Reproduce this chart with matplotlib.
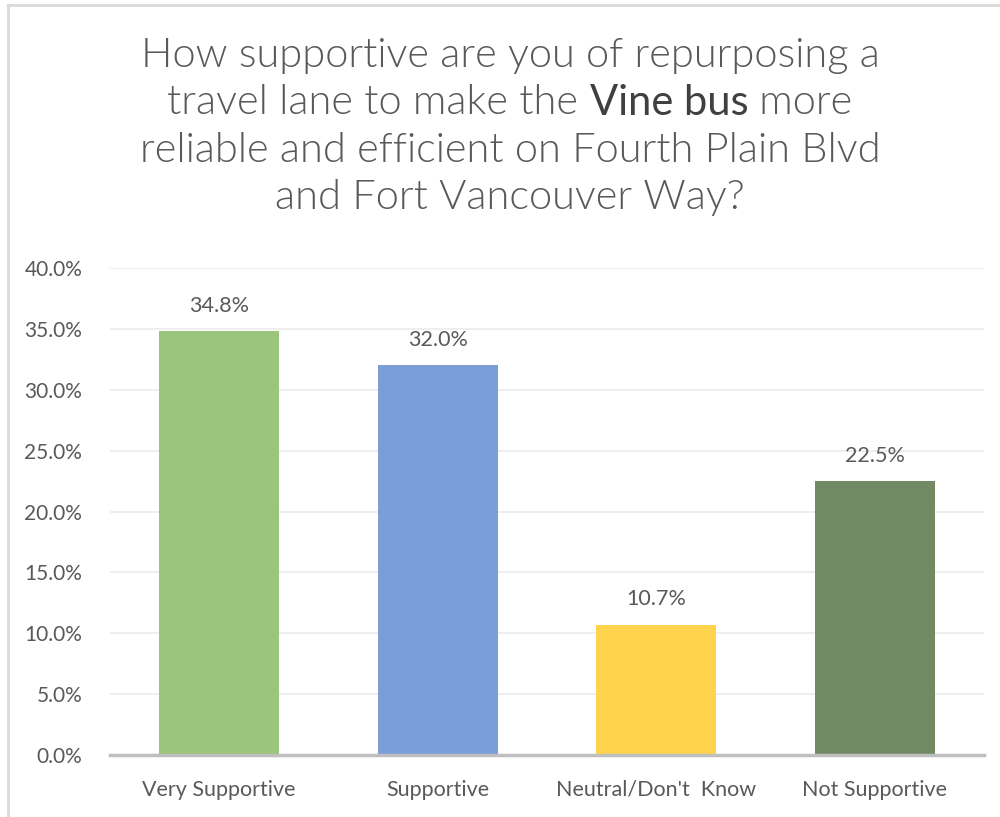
import matplotlib
matplotlib.use("Agg")
import matplotlib.pyplot as plt
from matplotlib.lines import Line2D

categories = ["Very Supportive", "Supportive", "Neutral/Don't  Know", "Not Supportive"]
values = [34.8, 32.0, 10.7, 22.5]
colors = ["#9BC47C", "#7B9ED8", "#FFD34D", "#718A63"]
yticks = [0, 5, 10, 15, 20, 25, 30, 35, 40]

plt.rcParams['font.family'] = ['Lato', 'DejaVu Sans']
txt = "#595959"

fig = plt.figure(figsize=(10, 8.17), dpi=100)
ax = fig.add_axes([0.11, 0.0759, 0.874, 0.596])

x = range(len(categories))
ax.bar(x, values, width=0.55, color=colors, zorder=3)
for i, v in zip(x, values):
    ax.annotate(f"{v:.1f}%", (i, v), xytext=(0, 11), textcoords="offset points",
                ha="center", va="bottom", fontsize=15.5, color=txt)

ax.set_xlim(-0.5, len(categories) - 0.5)
ax.set_ylim(0, 40)
ax.set_yticks(yticks)
ax.set_yticklabels([f"{t:.1f}%" for t in yticks], fontsize=15, color=txt)
ax.set_xticks(list(x))
ax.set_xticklabels(categories, fontsize=15.5, color=txt)
ax.tick_params(length=0, pad=20)
ax.tick_params(axis="x", pad=18)
ax.grid(axis="y", color="#EBEBEB", lw=1.2, zorder=0)
for s in ["top", "right", "left"]:
    ax.spines[s].set_visible(False)
ax.spines["bottom"].set_color("#BFBFBF")
ax.spines["bottom"].set_linewidth(2.5)
ax.spines["bottom"].set_zorder(4)

# title, with "Vine bus" in bolder type
fs = 30
lines = ["How supportive are you of repurposing a",
         None,
         "reliable and efficient on Fourth Plain Blvd",
         "and Fort Vancouver Way?"]
ys = [1 - 55 / 817, 1 - 103 / 817, 1 - 150 / 817, 1 - 197 / 817]
cx = 0.51
for line, y in zip(lines, ys):
    if line is not None:
        fig.text(cx, y, line, ha="center", va="center", fontsize=fs, color=txt,
                 fontweight=300)
fig.canvas.draw()
r = fig.canvas.get_renderer()
parts = [("travel lane to make the ", 300, txt),
         ("Vine bus", "normal", "#404040"),
         (" more", 300, txt)]
objs = [fig.text(0, ys[1], p, ha="left", va="center", fontsize=fs, color=c, fontweight=w)
        for p, w, c in parts]
widths = [o.get_window_extent(r).width / fig.bbox.width for o in objs]
start = cx - sum(widths) / 2
for o, w in zip(objs, widths):
    o.set_x(start)
    start += w

# chart frame edges
fig.add_artist(Line2D([0.008, 1.0], [1 - 5 / 817, 1 - 5 / 817], color="#D9D9D9", lw=2))
fig.add_artist(Line2D([0.008, 0.008], [0, 1 - 5 / 817], color="#D9D9D9", lw=2))

fig.savefig("out.png", dpi=100, facecolor="white")
